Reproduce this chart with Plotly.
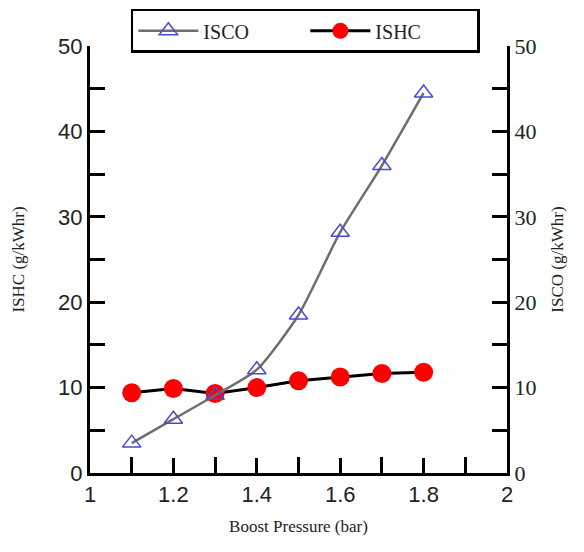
import plotly.graph_objects as go

boost_pressure = [1.1, 1.2, 1.3, 1.4, 1.5, 1.6, 1.7, 1.8]
isco = [3.5, 6.3, 9.1, 12.1, 18.5, 28.2, 36.0, 44.5]
ishc = [9.4, 9.9, 9.3, 10.0, 10.8, 11.25, 11.65, 11.8]

SANS = "Liberation Sans, Arial, sans-serif"
SERIF = "Liberation Serif, Times New Roman, serif"

fig = go.Figure()
fig.add_trace(go.Scatter(
    x=boost_pressure, y=isco, name="ISCO", yaxis="y2",
    mode="lines+markers",
    line=dict(color="#6e6e6e", width=2.5, shape="spline", smoothing=0.6),
    marker=dict(symbol="triangle-up-open", size=16, color="#4a4ad6",
                line=dict(width=1.5, color="#4a4ad6")),
))
fig.add_trace(go.Scatter(
    x=boost_pressure, y=ishc, name="ISHC", yaxis="y",
    mode="lines+markers",
    line=dict(color="black", width=3),
    marker=dict(symbol="circle", size=19, color="#ff0000",
                line=dict(width=0)),
))

axis_common = dict(
    showline=True, linecolor="black", linewidth=3,
    ticks="inside", ticklen=15, tickwidth=3, tickcolor="black",
    showgrid=False, zeroline=False,
)

fig.update_layout(
    width=584, height=552,
    margin=dict(l=90, r=77, t=46, b=79, autoexpand=False),
    plot_bgcolor="white", paper_bgcolor="white",
    showlegend=True,
    legend=dict(
        orientation="h", x=0.098, xanchor="left", y=1.087, yanchor="top",
        bordercolor="black", borderwidth=2.5, bgcolor="white",
        font=dict(family=SERIF, size=20, color="#222"),
        entrywidth=97, itemwidth=60,
    ),
    xaxis=dict(
        range=[1, 2], dtick=0.2, tick0=1,
        minor=dict(dtick=0.1, ticks="inside", ticklen=16, tickwidth=3, tickcolor="black"),
        tickfont=dict(family=SANS, size=22, color="#222"),
        title=dict(text="Boost Pressure (bar)", font=dict(family=SERIF, size=17, color="#222"), standoff=14),
        **axis_common,
    ),
    yaxis=dict(
        range=[0, 50], dtick=10, tick0=0,
        minor=dict(dtick=5, ticks="inside", ticklen=15, tickwidth=3, tickcolor="black"),
        tickfont=dict(family=SANS, size=22, color="#222"),
        title=dict(text="ISHC (g/kWhr)", font=dict(family=SERIF, size=17, color="#222"), standoff=30),
        **axis_common,
    ),
    yaxis2=dict(
        range=[0, 50], dtick=10, tick0=0, overlaying="y", side="right",
        minor=dict(dtick=5, ticks="inside", ticklen=15, tickwidth=3, tickcolor="black"),
        tickfont=dict(family=SERIF, size=22, color="#222"),
        title=dict(text="ISCO (g/kWhr)", font=dict(family=SERIF, size=17, color="#222"), standoff=16),
        **axis_common,
    ),
)

fig.write_html("out.html")
